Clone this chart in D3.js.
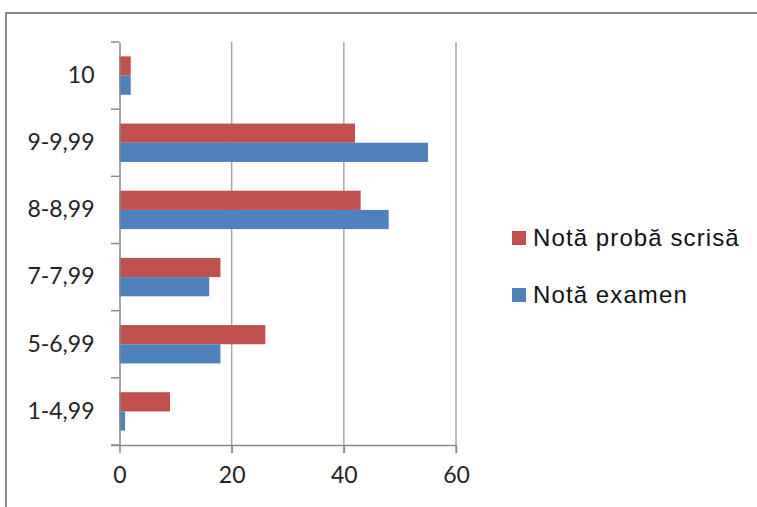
<!DOCTYPE html>
<html><head><meta charset="utf-8">
<script src="https://cdn.jsdelivr.net/npm/d3@7"></script>
<style>body{margin:0;background:#fff}svg{display:block}</style>
</head><body>
<svg id="c" width="757" height="507"></svg>
<script>
const categories = ["1-4,99","5-6,99","7-7,99","8-8,99","9-9,99","10"];
const seriesNames = ["Notă probă scrisă","Notă examen"];
const probaScrisa = [9, 26, 18, 43, 42, 2];
const examen = [1, 18, 16, 48, 55, 2];
const xTicks = [0, 20, 40, 60];
const colors = ["#C0504D", "#4F81BD"];

const svg = d3.select("#c");
svg.append("rect").attr("x",6).attr("y",13).attr("width",760).attr("height",510)
  .attr("fill","none").attr("stroke","#888").attr("stroke-width",2);

const x = d3.scaleLinear().domain([0,60]).range([119.5,456]);
const y = d3.scaleBand().domain(categories.slice().reverse()).range([42,445]).padding(0);
const groupH = y.bandwidth()/1.75;
const inner = d3.scaleBand().domain(seriesNames).range([0, groupH]).padding(0);

// gridlines
svg.append("g").selectAll("line").data(xTicks.slice(1)).join("line")
  .attr("x1",d=>x(d)).attr("x2",d=>x(d)).attr("y1",42).attr("y2",453)
  .attr("stroke","#a6a6a6").attr("stroke-width",1.5);

// bars
const data = categories.map((c,i)=>({c, vals:[probaScrisa[i], examen[i]]}));
const g = svg.append("g");
data.forEach(d=>{
  const top = y(d.c) + (y.bandwidth()-groupH)/2;
  d.vals.forEach((v,j)=>{
    g.append("rect")
      .attr("x",x(0)).attr("y",top+inner(seriesNames[j]))
      .attr("width",x(v)-x(0)).attr("height",inner.bandwidth())
      .attr("fill",colors[j]);
  });
});

// y axis
const yAxis = d3.axisLeft(y).tickSize(0).tickPadding(25);
const ya = svg.append("g").attr("transform","translate(119.5,0)").call(yAxis);
ya.select(".domain").attr("stroke","#888").attr("stroke-width",1.5);
ya.selectAll("text").attr("font-family","Lato").attr("font-size",23).attr("fill","#222");
// category boundary ticks
const bounds = categories.map(c=>y(c)).concat([445]);
svg.append("g").selectAll("line").data(bounds).join("line")
  .attr("x1",111).attr("x2",119.5).attr("y1",d=>d).attr("y2",d=>d)
  .attr("stroke","#888").attr("stroke-width",1.5);

// x axis
const xAxis = d3.axisBottom(x).tickValues(xTicks).tickSize(8).tickPadding(14).tickSizeOuter(0);
const xa = svg.append("g").attr("transform","translate(0,445)").call(xAxis);
xa.select(".domain").attr("stroke","#888").attr("stroke-width",1.5).attr("d","M111,0.5H456");
xa.selectAll(".tick line").attr("stroke","#888").attr("stroke-width",1.5);
xa.selectAll("text").attr("font-family","Lato").attr("font-size",23).attr("fill","#222");

// legend
const leg = svg.append("g");
seriesNames.forEach((n,i)=>{
  const yy = 231 + i*57;
  leg.append("rect").attr("x",512).attr("y",yy).attr("width",14).attr("height",14).attr("fill",colors[i]);
  leg.append("text").attr("x",533).attr("y",yy+15).text(n)
    .attr("font-family","Liberation Sans, Arial").attr("font-size",24)
    .attr("letter-spacing","1.1px").attr("fill","#111");
});
</script>
</body></html>
